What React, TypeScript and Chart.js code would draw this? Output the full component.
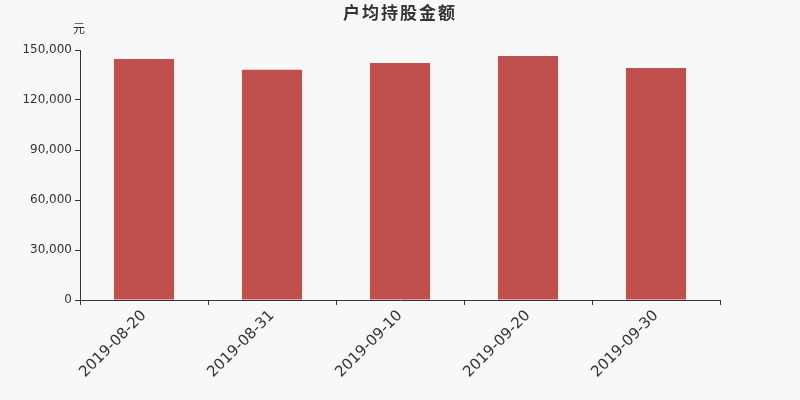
import { useEffect, useRef } from "react";
import { Chart, registerables } from "chart.js";

Chart.register(...registerables);

const dates = ["2019-08-20", "2019-08-31", "2019-09-10", "2019-09-20", "2019-09-30"];
const amounts = [144600, 138200, 142200, 146400, 139200];
const yTicks = [0, 30000, 60000, 90000, 120000, 150000];

const titleText = "户均持股金额";
const unitText = "元";

// background + title + unit, drawn on the canvas
const decor = {
  id: "decor",
  beforeDraw(chart: Chart) {
    const { ctx, width, height } = chart;
    ctx.save();
    ctx.fillStyle = "#f8f8f8";
    ctx.fillRect(0, 0, width, height);
    ctx.fillStyle = "#333";
    ctx.textAlign = "center";
    ctx.textBaseline = "middle";
    ctx.font = "bold 17px 'Noto Sans CJK SC', 'DejaVu Sans', sans-serif";
    (ctx as any).letterSpacing = "2px";
    ctx.fillText(titleText, 400, 13);
    (ctx as any).letterSpacing = "0px";
    ctx.font = "12px 'Noto Sans CJK SC', 'DejaVu Sans', sans-serif";
    ctx.fillText(unitText, 79, 28);
    ctx.restore();
  },
};

export default function App() {
  const canvasRef = useRef<HTMLCanvasElement>(null);

  useEffect(() => {
    document.body.style.margin = "0";
    if (!canvasRef.current) return;
    const chart = new Chart(canvasRef.current, {
      type: "bar",
      data: {
        labels: dates,
        datasets: [
          {
            data: amounts,
            backgroundColor: "#c0504e",
            categoryPercentage: 1,
            barPercentage: 0.47,
          },
        ],
      },
      options: {
        responsive: false,
        animation: false,
        layout: { padding: { top: 50, right: 80, left: 0, bottom: 0 } },
        plugins: { legend: { display: false }, tooltip: { enabled: false } },
        scales: {
          x: {
            afterFit: (s) => { s.height = 100; },
            grid: { drawOnChartArea: false, tickLength: 5, color: "#333", offset: true },
            border: { color: "#333" },
            ticks: {
              color: "#333",
              font: { family: "DejaVu Sans", size: 15 },
              minRotation: 45,
              maxRotation: 45,
              padding: 2,
            },
          },
          y: {
            min: 0,
            max: 150000,
            afterFit: (s) => { s.width = 80; },
            afterBuildTicks: (s) => { s.ticks = yTicks.map((v) => ({ value: v })); },
            grid: { drawOnChartArea: false, tickLength: 5, color: "#333" },
            border: { color: "#333" },
            ticks: {
              color: "#333",
              font: { family: "DejaVu Sans", size: 12 },
              padding: 3,
              callback: (v) => Number(v).toLocaleString("en-US"),
            },
          },
        },
      },
      plugins: [decor],
    });
    return () => chart.destroy();
  }, []);

  return <canvas ref={canvasRef} width={800} height={400} style={{ display: "block" }} />;
}
